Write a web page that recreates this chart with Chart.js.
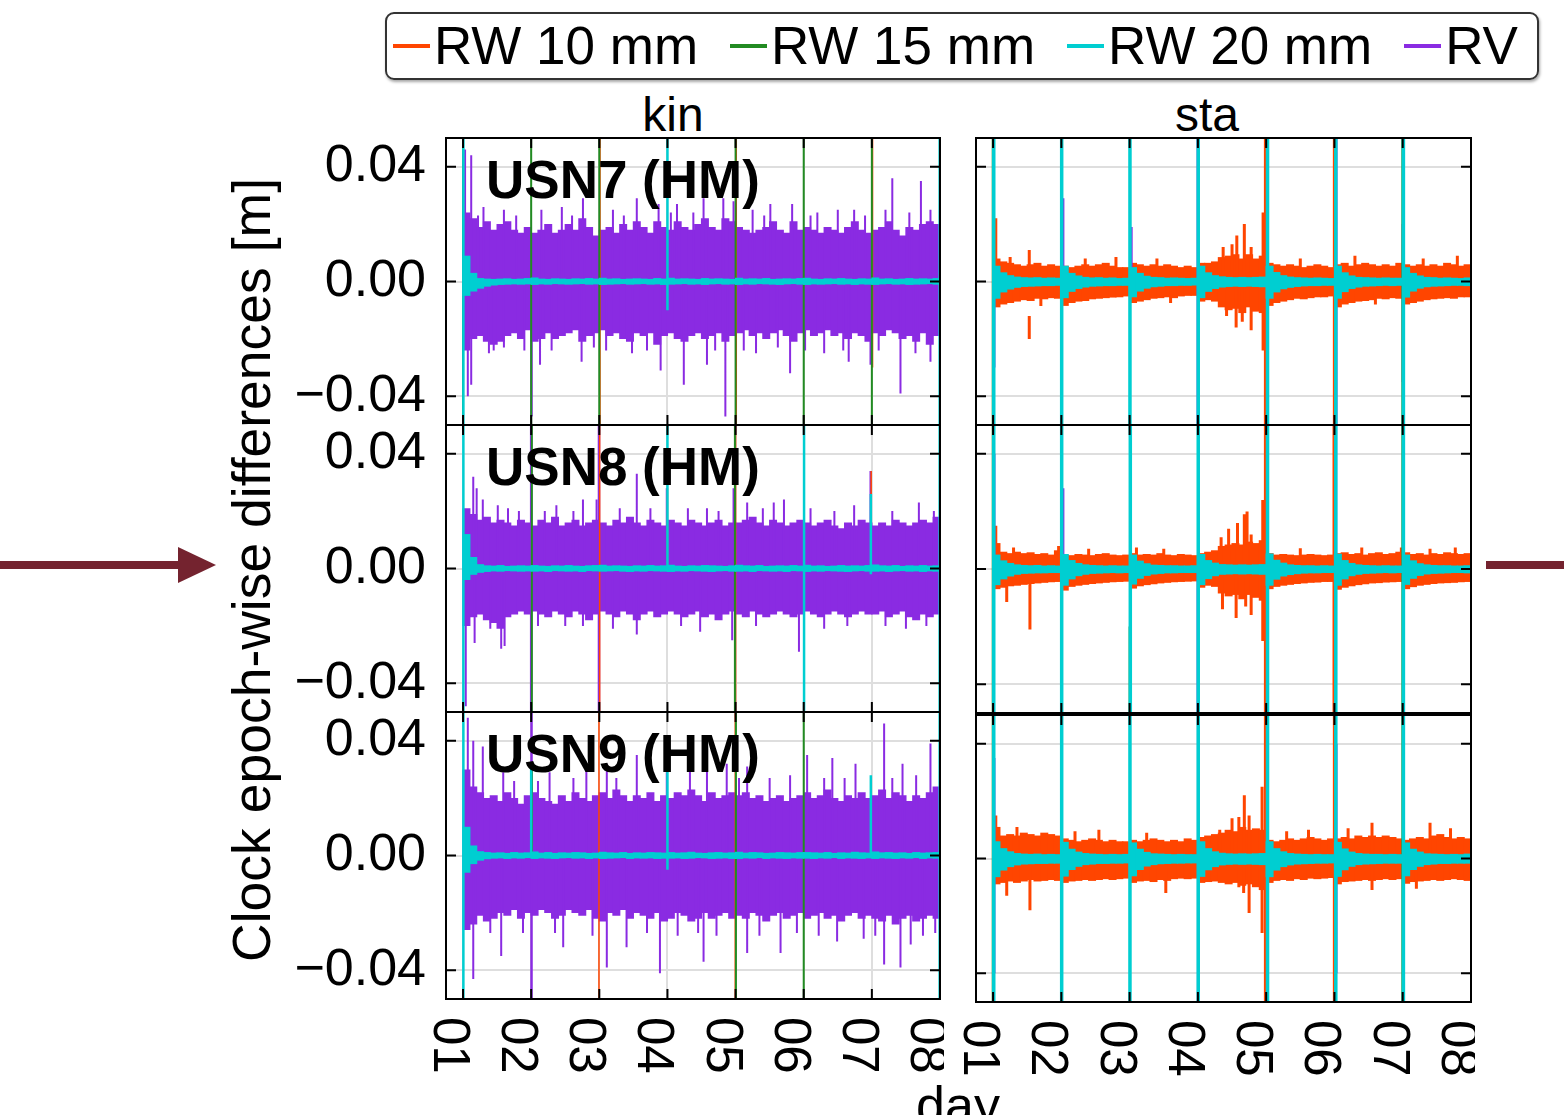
<!DOCTYPE html>
<html><head><meta charset="utf-8">
<script src="https://cdn.jsdelivr.net/npm/chart.js@4.4.1/dist/chart.umd.min.js"></script>
<style>
html,body{margin:0;padding:0;background:#fff;}
body{width:1564px;height:1115px;overflow:hidden;position:relative;font-family:"Liberation Sans",Arial,sans-serif;color:#000;}
canvas{position:absolute;}
.t{position:absolute;white-space:nowrap;line-height:1;}
#legend{position:absolute;left:385px;top:12px;width:1144px;height:64px;border:2px solid #333;border-radius:9px;box-shadow:1px 2px 3px rgba(0,0,0,0.35);display:flex;align-items:center;padding-left:6px;box-sizing:content-box;white-space:nowrap;}
.li{display:flex;align-items:center;margin-right:32px;font-size:53px;line-height:64px;white-space:nowrap;flex:none;}
.sw{width:37px;height:4px;margin-right:4px;flex:none;}
.arrow{position:absolute;background:#74232f;}
</style></head><body>
<div id="legend"></div>
<div class="t" id="tk" style="font-size:48px;left:673px;top:91px;transform:translateX(-50%);"></div>
<div class="t" id="ts" style="font-size:48px;left:1207px;top:91px;transform:translateX(-50%);"></div>
<div class="t" id="ytitle" style="font-size:53.5px;left:252px;top:570px;transform:translate(-50%,-50%) rotate(-90deg);"></div>
<div class="t" id="xtitle" style="font-size:52px;left:958px;top:1079px;transform:translateX(-50%);"></div>
<div class="arrow" style="left:0;top:561px;width:182px;height:8px;"></div>
<div style="position:absolute;left:178px;top:547px;width:0;height:0;border-left:38px solid #74232f;border-top:18px solid transparent;border-bottom:18px solid transparent;"></div>
<div class="arrow" style="left:1486px;top:561px;width:78px;height:8px;"></div>

<canvas id="k1" width="648" height="295" style="left:296px;top:134px"></canvas>
<canvas id="k2" width="648" height="295" style="left:296px;top:421px"></canvas>
<canvas id="k3" width="648" height="385" style="left:296px;top:708px"></canvas>
<canvas id="s1" width="529" height="295" style="left:946px;top:134px"></canvas>
<canvas id="s2" width="529" height="296" style="left:946px;top:421px"></canvas>
<canvas id="s3" width="529" height="385" style="left:946px;top:711px"></canvas>
<script>
// ---------------- labels ----------------
const seriesNames = ['RW 10 mm','RW 15 mm','RW 20 mm','RV'];
const seriesColors = ['#ff4500','#228b22','#00ced1','#8a2be2'];
const columnTitles = ['kin','sta'];
const stationLabels = ['USN7 (HM)','USN8 (HM)','USN9 (HM)'];
const yAxisTitle = 'Clock epoch-wise differences [m]';
const xAxisTitle = 'day';
const dayTicks = [1,2,3,4,5,6,7,8];
const dayTickLabels = ['01','02','03','04','05','06','07','08'];
const yTickValues = [-0.04, 0, 0.04];
const yTickLabels = ['\u22120.04','0.00','0.04'];

// ---------------- epochs (bin centres, days) ----------------
const binDays = [1.05,1.15,1.25,1.35,1.45,1.55,1.65,1.75,1.85,1.95,2.05,2.15,2.25,2.35,2.45,2.55,2.65,2.75,2.85,2.95,3.05,3.15,3.25,3.35,3.45,3.55,3.65,3.75,3.85,3.95,4.05,4.15,4.25,4.35,4.45,4.55,4.65,4.75,4.85,4.95,5.05,5.15,5.25,5.35,5.45,5.55,5.65,5.75,5.85,5.95,6.05,6.15,6.25,6.35,6.45,6.55,6.65,6.75,6.85,6.95,7.05,7.15,7.25,7.35,7.45,7.55,7.65,7.75,7.85,7.95];

// ================= kin USN7 =================
const kin7RvHi = [0.024,0.022,0.019,0.021,0.018,0.020,0.021,0.018,0.017,0.019, 0.017,0.018,0.020,0.017,0.018,0.020,0.018,0.022,0.019,0.016, 0.018,0.019,0.017,0.020,0.018,0.021,0.019,0.017,0.021,0.019, 0.018,0.021,0.019,0.018,0.020,0.022,0.019,0.018,0.022,0.021, 0.019,0.018,0.017,0.018,0.019,0.021,0.018,0.017,0.021,0.018, 0.019,0.018,0.017,0.019,0.018,0.017,0.019,0.021,0.018,0.017, 0.018,0.019,0.021,0.018,0.016,0.019,0.018,0.020,0.021,0.020];
const kin7RvLo = [-0.024,-0.020,-0.019,-0.021,-0.022,-0.021,-0.019,-0.018,-0.020,-0.017, -0.021,-0.020,-0.018,-0.020,-0.019,-0.018,-0.017,-0.021,-0.019,-0.018, -0.017,-0.019,-0.018,-0.020,-0.021,-0.018,-0.019,-0.018,-0.022,-0.019, -0.018,-0.020,-0.021,-0.019,-0.018,-0.020,-0.019,-0.018,-0.021,-0.019, -0.018,-0.017,-0.019,-0.018,-0.020,-0.018,-0.017,-0.019,-0.021,-0.018, -0.017,-0.019,-0.018,-0.017,-0.019,-0.018,-0.020,-0.018,-0.019,-0.021, -0.018,-0.019,-0.017,-0.018,-0.020,-0.019,-0.021,-0.018,-0.022,-0.019];
const kin7RvSpikes = [[1.03,0,0.046],[1.12,-0.036,0.044],[1.07,-0.040,0],[1.22,0,0.023],[1.3,0,0.026],[1.38,-0.025,0],[1.45,-0.024,0],[1.6,-0.023,0.025],[1.78,0,0.023],[1.9,-0.024,0],[2.13,-0.029,0],[2.15,0,0.025],[2.3,-0.024,0],[2.45,0,0.026],[2.6,0,0.023],[2.74,-0.028,0],[2.76,0,0.029],[2.92,-0.023,0],[3.1,-0.024,0],[3.2,0,0.025],[3.36,0,0.023],[3.48,-0.025,0],[3.55,0,0.029],[3.7,-0.024,0],[3.87,0,0.027],[3.9,-0.031,0],[4.05,0,0.024],[4.14,0,0.027],[4.24,-0.036,0],[4.38,0,0.024],[4.53,0,0.029],[4.58,-0.029,0],[4.7,-0.024,0],[4.82,0,0.029],[4.85,-0.047,0],[4.97,0,0.028],[5.12,-0.024,0],[5.25,0,0.025],[5.3,-0.025,0],[5.42,0,0.023],[5.51,0,0.027],[5.62,-0.023,0],[5.8,-0.032,0],[5.83,0,0.027],[6.02,-0.024,0],[6.1,0,0.023],[6.2,0,0.024],[6.3,-0.025,0],[6.5,0,0.025],[6.58,-0.024,0],[6.66,-0.028,0],[6.74,0,0.025],[6.9,0,0.023],[6.98,-0.029,0],[7.1,-0.024,0],[7.2,0,0.025],[7.3,0,0.036],[7.42,-0.039,0],[7.55,0,0.024],[7.64,-0.025,0],[7.72,0,0.035],[7.86,-0.028,0.025]];
const kin7Rw20Hi = [0.009,0.003,0.0012,0.001,0.0009,0.001,0.0011,0.0009,0.001,0.0012, 0.0014,0.001,0.0009,0.0011,0.001,0.0009,0.0011,0.001,0.0012,0.001, 0.0013,0.001,0.0011,0.0009,0.001,0.0011,0.001,0.0009,0.0012,0.001, 0.0013,0.001,0.0011,0.001,0.0009,0.0012,0.001,0.0011,0.001,0.0009, 0.0013,0.001,0.0011,0.001,0.0012,0.0009,0.001,0.0011,0.001,0.0012, 0.0013,0.001,0.0009,0.0011,0.001,0.0012,0.001,0.0009,0.0011,0.001, 0.0014,0.001,0.0011,0.0009,0.001,0.0012,0.001,0.0011,0.001,0.0012];
const kin7Rw20Lo = [-0.005,-0.0035,-0.0025,-0.0018,-0.0014,-0.0012,-0.0011,-0.001,-0.0011,-0.001, -0.0012,-0.001,-0.0011,-0.0009,-0.001,-0.0011,-0.001,-0.0009,-0.0011,-0.001, -0.0012,-0.0011,-0.001,-0.0009,-0.0011,-0.001,-0.0009,-0.0011,-0.001,-0.0012, -0.0011,-0.001,-0.0009,-0.0011,-0.001,-0.0012,-0.001,-0.0009,-0.0011,-0.001, -0.0012,-0.001,-0.0011,-0.0009,-0.001,-0.0011,-0.0012,-0.001,-0.0009,-0.0011, -0.0012,-0.001,-0.0011,-0.001,-0.0009,-0.0011,-0.001,-0.0012,-0.001,-0.0011, -0.0012,-0.001,-0.0009,-0.0011,-0.001,-0.0012,-0.0011,-0.001,-0.0009,-0.0011];
const kin7Rw10Resets = [[3.01,-0.06,0.06],[5.01,-0.06,0.06],[7.01,-0.03,0.06]];
const kin7Rw15Resets = [[1.0,-0.06,0.06],[2.0,-0.06,0.06],[3.0,-0.06,0.06],[5.0,-0.06,0.06],[6.0,-0.06,0.06],[7.0,-0.06,0.06]];
const kin7Rw20Resets = [[1.005,-0.06,0.06],[4.0,-0.01,0.06],[7.995,-0.06,0.06]];
const kin7RvResets = [[2.005,-0.047,0]];

// ================= kin USN8 =================
const kin8RvHi = [0.021,0.019,0.017,0.018,0.016,0.017,0.016,0.015,0.017,0.016, 0.015,0.017,0.016,0.018,0.015,0.016,0.017,0.015,0.016,0.017, 0.016,0.015,0.017,0.016,0.018,0.016,0.015,0.017,0.016,0.015, 0.017,0.016,0.015,0.017,0.016,0.015,0.016,0.017,0.015,0.016, 0.016,0.017,0.018,0.016,0.015,0.017,0.016,0.015,0.016,0.017, 0.016,0.015,0.016,0.017,0.015,0.014,0.016,0.015,0.017,0.016, 0.015,0.016,0.015,0.017,0.016,0.015,0.016,0.017,0.016,0.018];
const kin8RvLo = [-0.020,-0.017,-0.016,-0.018,-0.019,-0.021,-0.017,-0.016,-0.015,-0.016, -0.015,-0.016,-0.017,-0.015,-0.016,-0.017,-0.015,-0.016,-0.018,-0.016, -0.015,-0.016,-0.017,-0.015,-0.016,-0.018,-0.016,-0.015,-0.017,-0.016, -0.015,-0.016,-0.017,-0.016,-0.015,-0.017,-0.016,-0.018,-0.016,-0.015, -0.016,-0.017,-0.015,-0.016,-0.017,-0.016,-0.015,-0.016,-0.017,-0.016, -0.015,-0.016,-0.017,-0.016,-0.015,-0.016,-0.017,-0.016,-0.015,-0.016, -0.016,-0.015,-0.017,-0.016,-0.015,-0.017,-0.018,-0.016,-0.017,-0.016];
const kin8RvSpikes = [[1.04,-0.048,0],[1.15,0,0.032],[1.17,-0.026,0],[1.2,0,0.028],[1.29,0,0.024],[1.4,-0.021,0],[1.51,0,0.022],[1.56,-0.028,0],[1.61,-0.027,0],[1.66,0,0.021],[1.82,0,0.020],[2.1,-0.020,0],[2.2,0,0.020],[2.37,0,0.022],[2.5,-0.020,0],[2.62,0,0.020],[2.76,-0.020,0.024],[2.96,0,0.024],[3.2,-0.021,0],[3.3,0,0.021],[3.55,-0.023,0.033],[3.75,0,0.021],[3.99,0,0.028],[4.2,-0.020,0],[4.3,0,0.021],[4.48,-0.022,0],[4.58,0,0.021],[4.75,0,0.020],[4.95,-0.025,0],[4.97,0,0.028],[5.17,0,0.023],[5.3,-0.020,0],[5.4,0,0.021],[5.56,0,0.023],[5.71,0,0.024],[5.93,-0.029,0],[6.1,0,0.021],[6.3,-0.021,0],[6.45,0,0.020],[6.64,-0.020,0],[6.74,0,0.022],[6.98,0,0.034],[7.2,-0.020,0],[7.3,0,0.020],[7.5,-0.021,0],[7.69,0,0.023],[7.8,-0.020,0],[7.91,0,0.020]];
const kin8Rw20Hi = [0.012,0.004,0.0015,0.0011,0.001,0.0012,0.0009,0.001,0.0011,0.001, 0.0012,0.001,0.0009,0.0011,0.001,0.0012,0.001,0.0009,0.0011,0.0012, 0.0013,0.001,0.0011,0.001,0.0009,0.0011,0.001,0.0012,0.001,0.0011, 0.0013,0.001,0.0009,0.0011,0.001,0.0012,0.0011,0.001,0.0009,0.0011, 0.0013,0.0011,0.001,0.0012,0.0009,0.001,0.0011,0.001,0.0012,0.001, 0.0013,0.001,0.0011,0.0009,0.001,0.0012,0.001,0.0011,0.001,0.0012, 0.0014,0.0011,0.001,0.0012,0.0009,0.0011,0.001,0.0012,0.001,0.0011];
const kin8Rw20Lo = [-0.004,-0.0022,-0.0015,-0.0012,-0.001,-0.0011,-0.0009,-0.001,-0.0011,-0.001, -0.0011,-0.001,-0.0012,-0.0009,-0.001,-0.0011,-0.001,-0.0012,-0.0009,-0.001, -0.0011,-0.001,-0.0009,-0.0011,-0.0012,-0.001,-0.0011,-0.0009,-0.001,-0.0011, -0.0012,-0.001,-0.0011,-0.0009,-0.001,-0.0011,-0.0012,-0.001,-0.0009,-0.0011, -0.0011,-0.001,-0.0012,-0.0009,-0.001,-0.0011,-0.001,-0.0012,-0.0009,-0.001, -0.0012,-0.001,-0.0011,-0.0009,-0.001,-0.0011,-0.0012,-0.001,-0.0009,-0.0011, -0.0011,-0.001,-0.0012,-0.001,-0.0009,-0.0011,-0.001,-0.0012,-0.001,-0.0011];
const kin8Rw10Resets = [[3.005,-0.06,0.06],[5.0,-0.06,0.06],[4.0,0,0.028],[6.99,0.026,0.034]];
const kin8Rw15Resets = [[2.01,-0.06,0.06],[4.99,-0.06,0.06]];
const kin8Rw20Resets = [[1.005,-0.06,0.06],[4.0,0,0.06],[6.005,-0.06,0.06],[6.985,-0.002,0.026],[7.995,-0.06,0.06]];
const kin8RvResets = [[2.0,-0.06,0.06],[2.995,-0.06,0.06]];

// ================= kin USN9 =================
const kin9RvHi = [0.030,0.024,0.022,0.020,0.021,0.019,0.022,0.020,0.018,0.021, 0.022,0.020,0.019,0.018,0.021,0.019,0.022,0.020,0.019,0.021, 0.022,0.020,0.023,0.021,0.019,0.021,0.020,0.022,0.019,0.021, 0.020,0.022,0.021,0.023,0.021,0.019,0.022,0.020,0.021,0.022, 0.021,0.022,0.020,0.021,0.019,0.020,0.021,0.019,0.020,0.021, 0.022,0.020,0.021,0.023,0.020,0.019,0.021,0.020,0.022,0.020, 0.021,0.023,0.020,0.022,0.021,0.019,0.021,0.020,0.022,0.024];
const kin9RvLo = [-0.026,-0.024,-0.021,-0.023,-0.022,-0.020,-0.021,-0.019,-0.022,-0.020, -0.021,-0.019,-0.020,-0.022,-0.021,-0.019,-0.020,-0.021,-0.019,-0.022, -0.023,-0.020,-0.021,-0.019,-0.022,-0.020,-0.021,-0.022,-0.020,-0.023, -0.022,-0.020,-0.021,-0.023,-0.022,-0.020,-0.022,-0.021,-0.020,-0.022, -0.021,-0.022,-0.020,-0.021,-0.023,-0.021,-0.020,-0.022,-0.021,-0.020, -0.022,-0.021,-0.020,-0.022,-0.021,-0.023,-0.021,-0.020,-0.022,-0.021, -0.022,-0.023,-0.021,-0.024,-0.022,-0.021,-0.023,-0.022,-0.021,-0.022];
const kin9RvSpikes = [[1.07,0,0.048],[1.15,-0.043,0.040],[1.29,0,0.038],[1.4,-0.027,0],[1.56,-0.035,0],[1.59,0,0.029],[1.75,0,0.026],[1.88,-0.027,0],[2.1,0,0.026],[2.27,0,0.029],[2.35,-0.027,0],[2.47,-0.032,0],[2.62,0,0.027],[2.81,0,0.030],[2.9,-0.028,0],[3.11,-0.039,0.032],[3.25,0,0.027],[3.4,-0.032,0],[3.55,0,0.035],[3.7,-0.027,0],[3.89,-0.041,0],[3.99,0,0.029],[4.15,-0.028,0],[4.33,0,0.031],[4.45,-0.027,0],[4.53,-0.037,0],[4.58,0,0.031],[4.72,-0.028,0],[4.87,0,0.032],[5.05,0,0.027],[5.17,-0.034,0.031],[5.35,-0.028,0],[5.5,0,0.027],[5.66,-0.034,0],[5.8,0,0.028],[5.9,-0.027,0],[6.05,0,0.035],[6.22,-0.028,0],[6.3,0,0.027],[6.42,0,0.034],[6.49,-0.030,0],[6.6,0,0.027],[6.76,0,0.032],[6.88,-0.029,0],[7.05,-0.028,0],[7.18,-0.038,0.046],[7.3,0,0.027],[7.42,-0.039,0],[7.45,0,0.032],[7.57,-0.031,0],[7.65,0,0.028],[7.75,-0.028,0],[7.86,0,0.039],[7.93,-0.027,0]];
const kin9Rw20Hi = [0.010,0.0035,0.0015,0.0012,0.001,0.0011,0.0009,0.0012,0.001,0.0011, 0.0014,0.001,0.0012,0.0009,0.0011,0.001,0.0012,0.0011,0.0009,0.001, 0.0013,0.0011,0.001,0.0012,0.0009,0.0011,0.001,0.0012,0.0011,0.001, 0.0012,0.001,0.0011,0.0013,0.001,0.0009,0.0011,0.0012,0.001,0.0011, 0.0013,0.001,0.0012,0.0011,0.0009,0.001,0.0012,0.0011,0.001,0.0012, 0.0012,0.0011,0.001,0.0012,0.0009,0.0011,0.001,0.0013,0.0011,0.001, 0.0014,0.0011,0.0012,0.001,0.0011,0.0009,0.0012,0.001,0.0011,0.0012];
const kin9Rw20Lo = [-0.006,-0.003,-0.0018,-0.0013,-0.0011,-0.001,-0.0012,-0.001,-0.0011,-0.0009, -0.0012,-0.001,-0.0011,-0.0012,-0.001,-0.0009,-0.0011,-0.001,-0.0012,-0.001, -0.0012,-0.0011,-0.001,-0.0009,-0.0012,-0.001,-0.0011,-0.001,-0.0012,-0.0011, -0.0011,-0.001,-0.0012,-0.0011,-0.0009,-0.001,-0.0012,-0.0011,-0.001,-0.0012, -0.0012,-0.001,-0.0011,-0.0009,-0.0012,-0.001,-0.0011,-0.0012,-0.001,-0.0011, -0.0011,-0.0012,-0.001,-0.0011,-0.0009,-0.0012,-0.001,-0.0011,-0.0012,-0.001, -0.0012,-0.001,-0.0011,-0.0012,-0.001,-0.0011,-0.0009,-0.0012,-0.001,-0.0011];
const kin9Rw10Resets = [[2.995,-0.06,0.06],[4.995,-0.06,0.06]];
const kin9Rw15Resets = [[2.01,0,0.032],[5.005,-0.06,0.06],[6.0,-0.06,0.06]];
const kin9Rw20Resets = [[1.005,-0.06,0.06],[2.0,0,0.032],[4.0,-0.005,0.03],[6.985,0,0.028],[7.995,-0.06,0.06]];
const kin9RvResets = [[2.005,-0.06,0.06]];

// ================= sta USN7 =================
const sta7Rw10Hi = [0.008,0.007,0.0065,0.006,0.0055,0.006,0.0065,0.0055,0.006,0.0055, 0.0055,0.005,0.0055,0.006,0.0055,0.006,0.0065,0.0055,0.005,0.005, 0.0065,0.006,0.0055,0.006,0.0055,0.006,0.0055,0.005,0.0055,0.005, 0.0065,0.0065,0.007,0.0085,0.009,0.0095,0.008,0.0095,0.008,0.009, 0.0065,0.006,0.0055,0.006,0.0055,0.005,0.0055,0.006,0.0055,0.005, 0.006,0.0065,0.0055,0.006,0.0065,0.006,0.0055,0.006,0.0055,0.0065, 0.006,0.0055,0.006,0.0055,0.006,0.0055,0.0065,0.006,0.0055,0.006];
const sta7Rw10Lo = [-0.009,-0.008,-0.0075,-0.007,-0.0065,-0.0068,-0.006,-0.0062,-0.0058,-0.006, -0.0085,-0.0075,-0.007,-0.0068,-0.0062,-0.006,-0.0058,-0.0056,-0.0055,-0.0052, -0.0075,-0.007,-0.0065,-0.006,-0.0058,-0.0055,-0.0058,-0.0052,-0.005,-0.005, -0.007,-0.0065,-0.007,-0.009,-0.010,-0.0095,-0.011,-0.009,-0.0105,-0.011, -0.0085,-0.0075,-0.007,-0.0065,-0.006,-0.0062,-0.0058,-0.0055,-0.0055,-0.0052, -0.009,-0.008,-0.0075,-0.007,-0.0068,-0.0065,-0.006,-0.0062,-0.0058,-0.006, -0.008,-0.0075,-0.007,-0.0065,-0.0062,-0.006,-0.0058,-0.006,-0.0055,-0.0055];
const sta7Rw10Spikes = [[1.04,0,0.022],[1.25,0,0.0085],[1.53,0,0.011],[1.53,-0.020,-0.012],[1.7,-0.0085,0],[2.35,0,0.008],[2.8,0,0.0085],[3.4,0,0.008],[3.6,-0.0075,0],[4.37,0,0.012],[4.42,-0.012,0],[4.5,0,0.013],[4.56,-0.016,0],[4.57,0,0.016],[4.65,-0.014,0],[4.68,0,0.020],[4.78,-0.017,0.012],[4.955,-0.024,0.024],[5.5,0,0.008],[6.3,0,0.009],[6.6,-0.008,0],[7.3,0,0.008],[7.8,0,0.009]];
const sta7Rw20Hi = [0.0055,0.0032,0.0022,0.0017,0.0015,0.0014,0.0015,0.0013,0.0014,0.0013, 0.0055,0.0030,0.0021,0.0016,0.0014,0.0015,0.0013,0.0014,0.0012,0.0013, 0.0050,0.0030,0.0020,0.0016,0.0015,0.0013,0.0014,0.0013,0.0012,0.0013, 0.0055,0.0032,0.0022,0.0018,0.0016,0.0015,0.0016,0.0015,0.0016,0.0017, 0.0055,0.0033,0.0022,0.0017,0.0015,0.0014,0.0013,0.0014,0.0013,0.0012, 0.0055,0.0032,0.0021,0.0016,0.0015,0.0014,0.0013,0.0014,0.0013,0.0013, 0.0050,0.0030,0.0021,0.0016,0.0015,0.0013,0.0014,0.0013,0.0012,0.0014];
const sta7Rw20Lo = [-0.0060,-0.0038,-0.0028,-0.0022,-0.0019,-0.0018,-0.0017,-0.0016,-0.0016,-0.0015, -0.0058,-0.0036,-0.0026,-0.0021,-0.0018,-0.0017,-0.0016,-0.0016,-0.0015,-0.0015, -0.0055,-0.0035,-0.0025,-0.0020,-0.0018,-0.0016,-0.0016,-0.0015,-0.0015,-0.0014, -0.0058,-0.0036,-0.0026,-0.0021,-0.0019,-0.0018,-0.0019,-0.0018,-0.0019,-0.0020, -0.0060,-0.0038,-0.0027,-0.0022,-0.0019,-0.0017,-0.0016,-0.0016,-0.0015,-0.0015, -0.0060,-0.0037,-0.0026,-0.0021,-0.0018,-0.0017,-0.0016,-0.0015,-0.0016,-0.0015, -0.0056,-0.0035,-0.0025,-0.0020,-0.0018,-0.0017,-0.0016,-0.0015,-0.0015,-0.0016];
const sta7Rw10Resets = [[4.985,-0.06,0.06],[5.995,-0.06,0.06],[7.015,-0.04,0.05]];
const sta7Rw15Resets = [[0.995,-0.06,0.06],[5.0,-0.06,0.06],[6.995,-0.06,0.06]];
const sta7Rw20Resets = [[1.01,-0.06,0.06],[2.005,-0.06,0.06],[3.005,-0.06,0.06],[4.005,-0.06,0.06],[5.02,-0.06,0.06],[6.02,-0.06,0.06],[7.01,-0.06,0.06]];
const sta7RvResets = [[1.02,-0.030,0],[2.03,0,0.029],[3.03,0,0.019],[3.995,-0.06,0.06],[6.03,-0.06,0.06],[7.0,-0.035,0.02]];

// ================= sta USN8 =================
const sta8Rw10Hi = [0.009,0.006,0.0055,0.006,0.0055,0.0058,0.0052,0.0055,0.005,0.0065, 0.005,0.0048,0.0052,0.005,0.0048,0.0052,0.0055,0.005,0.0048,0.005, 0.0055,0.005,0.0052,0.005,0.0055,0.005,0.0048,0.0052,0.005,0.0048, 0.0055,0.006,0.0065,0.008,0.0085,0.009,0.0085,0.0095,0.009,0.010, 0.0055,0.005,0.0052,0.005,0.0048,0.005,0.0052,0.005,0.0048,0.005, 0.0055,0.0058,0.0052,0.0055,0.005,0.0055,0.0058,0.0052,0.0055,0.006, 0.0058,0.0052,0.0055,0.005,0.0055,0.0052,0.0058,0.0055,0.0052,0.0055];
const sta8Rw10Lo = [-0.007,-0.0065,-0.006,-0.0058,-0.0055,-0.0052,-0.005,-0.0048,-0.0046,-0.0045, -0.0075,-0.0062,-0.0058,-0.0055,-0.0052,-0.005,-0.0048,-0.0046,-0.0045,-0.0044, -0.0068,-0.006,-0.0056,-0.0053,-0.005,-0.0048,-0.0046,-0.0045,-0.0044,-0.0043, -0.0065,-0.0058,-0.0062,-0.0085,-0.0095,-0.009,-0.0105,-0.009,-0.010,-0.011, -0.007,-0.0062,-0.0058,-0.0055,-0.0052,-0.005,-0.0048,-0.0047,-0.0045,-0.0045, -0.0072,-0.0065,-0.006,-0.0056,-0.0053,-0.005,-0.0049,-0.0047,-0.0046,-0.0045, -0.007,-0.0063,-0.0058,-0.0055,-0.0052,-0.005,-0.0049,-0.0048,-0.0046,-0.0045];
const sta8Rw10Spikes = [[1.04,0,0.015],[1.2,-0.0115,0],[1.3,0,0.0075],[1.54,-0.021,0],[1.96,0,0.008],[2.4,0,0.007],[3.1,0,0.0075],[3.5,0,0.007],[4.34,0,0.011],[4.36,-0.014,0],[4.45,0,0.014],[4.56,-0.017,0],[4.58,0,0.016],[4.68,0,0.019],[4.7,-0.013,0],[4.72,0,0.020],[4.78,-0.016,0.012],[4.95,-0.025,0.024],[5.5,0,0.0072],[6.4,0,0.0075],[6.98,0,0.0075],[7.4,0,0.007],[7.77,0,0.0075]];
const sta8Rw20Hi = [0.0050,0.0030,0.0021,0.0016,0.0014,0.0013,0.0014,0.0012,0.0013,0.0012, 0.0052,0.0031,0.0021,0.0016,0.0014,0.0013,0.0012,0.0013,0.0012,0.0012, 0.0050,0.0029,0.0020,0.0015,0.0014,0.0013,0.0013,0.0012,0.0012,0.0013, 0.0052,0.0031,0.0022,0.0017,0.0016,0.0015,0.0016,0.0015,0.0016,0.0017, 0.0054,0.0032,0.0022,0.0016,0.0014,0.0013,0.0013,0.0012,0.0013,0.0012, 0.0053,0.0031,0.0021,0.0016,0.0014,0.0013,0.0012,0.0013,0.0012,0.0012, 0.0050,0.0030,0.0020,0.0016,0.0014,0.0013,0.0013,0.0012,0.0012,0.0013];
const sta8Rw20Lo = [-0.0056,-0.0036,-0.0026,-0.0020,-0.0017,-0.0016,-0.0015,-0.0015,-0.0014,-0.0014, -0.0058,-0.0036,-0.0025,-0.0020,-0.0017,-0.0016,-0.0015,-0.0014,-0.0015,-0.0014, -0.0054,-0.0034,-0.0024,-0.0019,-0.0017,-0.0015,-0.0015,-0.0014,-0.0014,-0.0014, -0.0056,-0.0035,-0.0025,-0.0020,-0.0019,-0.0018,-0.0019,-0.0018,-0.0019,-0.0020, -0.0058,-0.0037,-0.0026,-0.0021,-0.0018,-0.0016,-0.0015,-0.0015,-0.0014,-0.0014, -0.0058,-0.0036,-0.0025,-0.0020,-0.0017,-0.0016,-0.0015,-0.0014,-0.0015,-0.0014, -0.0055,-0.0034,-0.0024,-0.0019,-0.0017,-0.0016,-0.0015,-0.0014,-0.0014,-0.0015];
const sta8Rw10Resets = [[4.985,-0.06,0.06],[5.99,-0.06,0.06]];
const sta8Rw15Resets = [[0.995,-0.06,0.06],[3.0,-0.06,-0.02],[6.995,-0.06,0.06]];
const sta8Rw20Resets = [[1.01,-0.06,0.06],[2.005,-0.06,0.06],[3.01,-0.06,0.06],[4.005,-0.06,0.06],[5.02,-0.06,0.06],[6.02,-0.06,0.06],[7.01,-0.06,0.06]];
const sta8RvResets = [[1.02,0,0.04],[2.03,0,0.028],[3.02,0,0.017],[3.995,-0.05,0],[6.025,0,0.06]];

// ================= sta USN9 =================
const sta9Rw10Hi = [0.011,0.008,0.0085,0.008,0.009,0.0085,0.008,0.009,0.0085,0.008, 0.007,0.0065,0.006,0.0065,0.007,0.0065,0.006,0.0065,0.006,0.006, 0.0065,0.006,0.0065,0.007,0.0065,0.006,0.0065,0.006,0.007,0.0065, 0.0075,0.008,0.0085,0.009,0.010,0.0095,0.011,0.010,0.0105,0.010, 0.0065,0.006,0.0065,0.007,0.0065,0.007,0.0075,0.007,0.0065,0.007, 0.007,0.0075,0.007,0.008,0.0075,0.008,0.0075,0.008,0.0075,0.007, 0.0065,0.007,0.0075,0.007,0.008,0.0085,0.0075,0.007,0.0075,0.007];
const sta9Rw10Lo = [-0.009,-0.0085,-0.008,-0.0085,-0.008,-0.0075,-0.008,-0.0078,-0.0075,-0.0078, -0.0085,-0.008,-0.0078,-0.0075,-0.0078,-0.0075,-0.0072,-0.0075,-0.0072,-0.007, -0.0085,-0.008,-0.0078,-0.0082,-0.0075,-0.0078,-0.0072,-0.007,-0.0072,-0.007, -0.0085,-0.0082,-0.008,-0.0085,-0.009,-0.0085,-0.0095,-0.009,-0.010,-0.011, -0.0085,-0.0078,-0.0075,-0.0078,-0.0072,-0.0075,-0.007,-0.0072,-0.007,-0.0068, -0.009,-0.0082,-0.008,-0.0078,-0.0075,-0.0078,-0.0075,-0.0072,-0.0075,-0.0072, -0.0088,-0.0082,-0.008,-0.0078,-0.0075,-0.0078,-0.0075,-0.0072,-0.0075,-0.0078];
const sta9Rw10Spikes = [[1.04,0,0.015],[1.2,-0.013,0],[1.35,0,0.011],[1.54,-0.018,0],[2.2,0,0.0095],[2.55,0,0.010],[3.25,0,0.009],[3.53,-0.012,0],[4.32,0,0.010],[4.5,0,0.014],[4.6,-0.010,0.0145],[4.67,-0.012,0],[4.68,0,0.022],[4.75,-0.019,0.015],[4.94,-0.026,0.025],[5.3,0,0.0095],[5.62,0,0.010],[6.2,0,0.0105],[6.55,-0.011,0.0125],[7.2,-0.0105,0],[7.4,0,0.0125],[7.7,0,0.0105]];
const sta9Rw20Hi = [0.0060,0.0036,0.0025,0.0019,0.0017,0.0016,0.0017,0.0015,0.0016,0.0015, 0.0058,0.0034,0.0024,0.0019,0.0017,0.0016,0.0015,0.0016,0.0015,0.0016, 0.0056,0.0034,0.0023,0.0018,0.0017,0.0016,0.0015,0.0016,0.0015,0.0015, 0.0060,0.0036,0.0025,0.0020,0.0018,0.0017,0.0018,0.0017,0.0018,0.0019, 0.0060,0.0036,0.0025,0.0019,0.0017,0.0016,0.0015,0.0016,0.0015,0.0015, 0.0058,0.0035,0.0024,0.0019,0.0017,0.0016,0.0016,0.0015,0.0016,0.0015, 0.0056,0.0034,0.0024,0.0018,0.0017,0.0016,0.0015,0.0016,0.0015,0.0017];
const sta9Rw20Lo = [-0.0065,-0.0042,-0.0030,-0.0024,-0.0021,-0.0020,-0.0019,-0.0019,-0.0018,-0.0018, -0.0063,-0.0040,-0.0029,-0.0023,-0.0021,-0.0019,-0.0019,-0.0018,-0.0018,-0.0017, -0.0062,-0.0040,-0.0028,-0.0023,-0.0020,-0.0019,-0.0018,-0.0018,-0.0017,-0.0017, -0.0064,-0.0041,-0.0030,-0.0024,-0.0022,-0.0021,-0.0022,-0.0021,-0.0022,-0.0023, -0.0065,-0.0042,-0.0030,-0.0024,-0.0021,-0.0020,-0.0019,-0.0018,-0.0018,-0.0017, -0.0064,-0.0041,-0.0029,-0.0023,-0.0021,-0.0020,-0.0019,-0.0018,-0.0018,-0.0018, -0.0062,-0.0040,-0.0029,-0.0023,-0.0021,-0.0019,-0.0019,-0.0018,-0.0018,-0.0018];
const sta9Rw10Resets = [[4.985,-0.06,0.06],[5.995,-0.06,0.06],[7.01,-0.031,0]];
const sta9Rw15Resets = [[0.995,-0.06,0.06],[6.995,-0.06,0.06]];
const sta9Rw20Resets = [[1.01,-0.06,0.06],[2.005,-0.06,0.06],[3.005,-0.06,0.06],[4.005,-0.06,0.06],[5.02,-0.06,0.06],[6.02,-0.06,0.06],[7.01,-0.06,0.06]];
const sta9RvResets = [[1.02,-0.04,0.035],[4.0,-0.06,0.06],[4.99,-0.05,0],[6.03,-0.04,0.04]];

// ---------------- html text ----------------
const lg = document.getElementById('legend');
seriesNames.forEach((n,i)=>{
  const it=document.createElement('div'); it.className='li';
  const sw=document.createElement('div'); sw.className='sw'; sw.style.background=seriesColors[i];
  const tx=document.createElement('span'); tx.textContent=n;
  it.appendChild(sw); it.appendChild(tx); lg.appendChild(it);
});
document.getElementById('tk').textContent = columnTitles[0];
document.getElementById('ts').textContent = columnTitles[1];
document.getElementById('ytitle').textContent = yAxisTitle;
document.getElementById('xtitle').textContent = xAxisTitle;

// ---------------- chart helpers ----------------
const [C10,C15,C20,CRV] = seriesColors;
function band(lo, hi, color, order){
  return {type:'bar', data: binDays.map((d,i)=>({x:d, y:[lo[i], hi[i]]})), backgroundColor: color, borderColor: color, borderWidth:0, barThickness:8, grouped:false, inflateAmount:0, order};
}
function segs(triples, color, width, order){
  const data=[];
  triples.forEach(([d,lo,hi])=>{ data.push({x:d,y:lo},{x:d,y:hi},{x:d,y:null}); });
  return {type:'line', data, borderColor: color, backgroundColor: color, borderWidth: width, pointRadius:0, pointHoverRadius:0, spanGaps:false, fill:false, tension:0, borderCapStyle:'butt', order};
}
function panelPlugin(p){
  return {
    id:'panel_'+p.id,
    afterDatasetsDraw(chart){
      if(!p.label) return;
      const {ctx, chartArea:a} = chart;
      ctx.save(); ctx.font='bold 53px "Liberation Sans", Arial, sans-serif'; ctx.fillStyle='#000';
      ctx.textAlign='left'; ctx.textBaseline='alphabetic';
      ctx.fillText(p.label, a.left+40, a.top+60); ctx.restore();
    },
    afterDraw(chart){
      const {ctx, chartArea:a, scales:{x,y}} = chart;
      ctx.save();
      ctx.strokeStyle='#000'; ctx.lineWidth=2;
      ctx.strokeRect(a.left, a.top, a.right-a.left, a.bottom-a.top);
      ctx.beginPath();
      yTickValues.forEach(v=>{const py=y.getPixelForValue(v); ctx.moveTo(a.left,py); ctx.lineTo(a.left+10,py); ctx.moveTo(a.right-10,py); ctx.lineTo(a.right,py);});
      dayTicks.forEach(v=>{const px=x.getPixelForValue(v); ctx.moveTo(px,a.bottom); ctx.lineTo(px,a.bottom-10); ctx.moveTo(px,a.top); ctx.lineTo(px,a.top+10);});
      ctx.stroke();
      if(p.bottomRow){
        ctx.font='51px "Liberation Sans", Arial, sans-serif'; ctx.fillStyle='#000';
        ctx.textAlign='left'; ctx.textBaseline='middle';
        dayTicks.forEach((v,i)=>{ const px=x.getPixelForValue(v); ctx.save(); ctx.translate(px-15, a.bottom+18); ctx.rotate(Math.PI/2); ctx.fillText(dayTickLabels[i],0,0); ctx.restore(); });
      }
      ctx.restore();
    }
  };
}
function makeChart(id, datasets, p){
  const grid = {color:'#dedede', lineWidth:2, drawTicks:false, offset:false};
  return new Chart(document.getElementById(id), {
    type:'bar',
    data:{datasets},
    options:{
      responsive:false, animation:false, devicePixelRatio:1, events:[],
      layout:{padding:{left:0,right:4,top:4,bottom:4}, autoPadding:false},
      plugins:{legend:{display:false}, tooltip:{enabled:false}, title:{display:false}},
      scales:{
        x:{type:'linear', min:0.75, max:8.0, offset:false, grid, border:{display:false},
           ticks:{display:false},
           afterBuildTicks:s=>{ s.ticks = dayTicks.map(v=>({value:v})); },
           afterFit:s=>{ s.height = p.bottomRow ? 90 : 0; s.paddingLeft=0; s.paddingRight=0; }},
        y:{type:'linear', min:-0.05, max:0.05, grid, border:{display:false},
           ticks:{display:p.leftCol, padding:20, color:'#000', font:{family:'"Liberation Sans", Arial, sans-serif', size:52}, callback:(v,i)=>yTickLabels[i]},
           afterBuildTicks:s=>{ s.ticks = yTickValues.map(v=>({value:v})); },
           afterFit:s=>{ s.width = p.leftCol ? 150 : 30; s.paddingTop=0; s.paddingBottom=0; }}
      }
    },
    plugins:[panelPlugin(p)]
  });
}
function kinSets(rvHi, rvLo, rvSp, cHi, cLo, r10, r15, r20, rRv){
  return [
    band(rvLo, rvHi, CRV, 60),
    segs(rvSp, CRV, 2, 59),
    segs(rRv, CRV, 2.5, 40),
    segs(r10, C10, 1.5, 35),
    segs(r15, C15, 2, 30),
    band(cLo, cHi, C20, 10),
    segs(r20, C20, 2.5, 5)
  ];
}
function staSets(oHi, oLo, oSp, cHi, cLo, r10, r15, r20, rRv){
  return [
    band(oLo, oHi, C10, 60),
    segs(oSp, C10, 3, 59),
    segs(rRv, CRV, 2, 45),
    segs(r15, C15, 2, 40),
    segs(r10, C10, 2.5, 35),
    band(cLo, cHi, C20, 10),
    segs(r20, C20, 3.5, 5)
  ];
}
makeChart('k1', kinSets(kin7RvHi,kin7RvLo,kin7RvSpikes,kin7Rw20Hi,kin7Rw20Lo,kin7Rw10Resets,kin7Rw15Resets,kin7Rw20Resets,kin7RvResets), {id:'k1', label:stationLabels[0], leftCol:true, bottomRow:false});
makeChart('k2', kinSets(kin8RvHi,kin8RvLo,kin8RvSpikes,kin8Rw20Hi,kin8Rw20Lo,kin8Rw10Resets,kin8Rw15Resets,kin8Rw20Resets,kin8RvResets), {id:'k2', label:stationLabels[1], leftCol:true, bottomRow:false});
makeChart('k3', kinSets(kin9RvHi,kin9RvLo,kin9RvSpikes,kin9Rw20Hi,kin9Rw20Lo,kin9Rw10Resets,kin9Rw15Resets,kin9Rw20Resets,kin9RvResets), {id:'k3', label:stationLabels[2], leftCol:true, bottomRow:true});
makeChart('s1', staSets(sta7Rw10Hi,sta7Rw10Lo,sta7Rw10Spikes,sta7Rw20Hi,sta7Rw20Lo,sta7Rw10Resets,sta7Rw15Resets,sta7Rw20Resets,sta7RvResets), {id:'s1', label:null, leftCol:false, bottomRow:false});
makeChart('s2', staSets(sta8Rw10Hi,sta8Rw10Lo,sta8Rw10Spikes,sta8Rw20Hi,sta8Rw20Lo,sta8Rw10Resets,sta8Rw15Resets,sta8Rw20Resets,sta8RvResets), {id:'s2', label:null, leftCol:false, bottomRow:false});
makeChart('s3', staSets(sta9Rw10Hi,sta9Rw10Lo,sta9Rw10Spikes,sta9Rw20Hi,sta9Rw20Lo,sta9Rw10Resets,sta9Rw15Resets,sta9Rw20Resets,sta9RvResets), {id:'s3', label:null, leftCol:false, bottomRow:true});
</script>
</body></html>
